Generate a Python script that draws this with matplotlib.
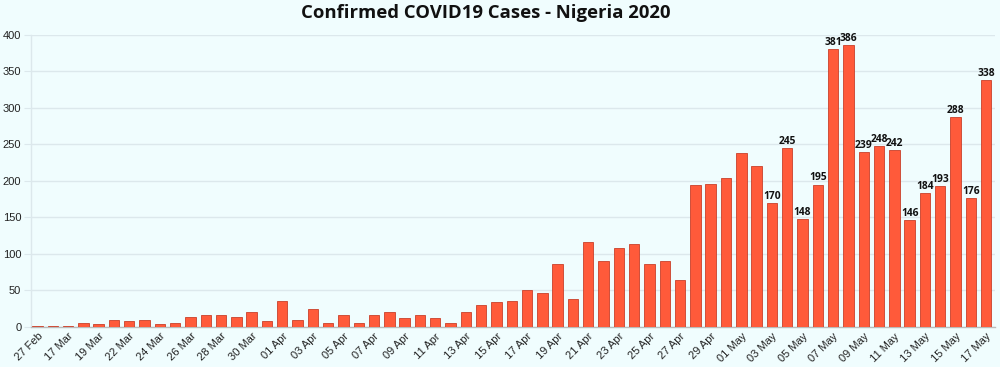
import matplotlib
matplotlib.use("Agg")
import matplotlib.pyplot as plt
import numpy as np
import datetime as dt

# ---- data ----
early_dates = ["27 Feb", "09 Mar", "17 Mar", "18 Mar", "19 Mar", "21 Mar", "22 Mar",
               "23 Mar", "24 Mar", "25 Mar", "26 Mar", "27 Mar", "28 Mar", "29 Mar",
               "30 Mar", "31 Mar"]
start = dt.date(2020, 4, 1)
later_dates = [(start + dt.timedelta(days=i)).strftime("%d %b") for i in range(47)]
dates = early_dates + later_dates

cases = [1, 1, 1, 5, 4, 10, 8, 10, 4, 6, 14, 16, 16, 14, 20, 8,
         35, 10, 25, 5, 17, 5, 16, 20, 13, 16, 12, 5, 20, 30,
         34, 35, 50, 47, 86, 38, 117, 91, 108, 113, 86, 91, 64,
         195, 196, 204, 238, 220, 170, 245, 148, 195, 381, 386,
         239, 248, 242, 146, 184, 193, 288, 176, 338]

labeled_from = 48  # data labels shown from this bar onward

# ---- style ----
bg = "#F0FDFE"
bar_face = "#FF5A3A"
bar_edge = "#C9402A"
grid_c = "#DCE8EC"

fig = plt.figure(figsize=(10, 3.67), dpi=100, facecolor=bg)
ax = fig.add_axes([0.031, 0.109, 0.964, 0.796], facecolor=bg)

x = np.arange(len(cases))
ax.bar(x, cases, width=0.68, color=bar_face, edgecolor=bar_edge, linewidth=0.6, zorder=3)

for i in range(labeled_from, len(cases)):
    ax.text(x[i], cases[i] + 1.5, str(cases[i]), ha="center", va="bottom",
            fontsize=7.4, fontweight="bold", family=["Open Sans", "DejaVu Sans"],
            color="#111111", zorder=4)

ax.set_xlim(-0.42, len(cases) - 0.42)
ax.set_ylim(0, 400)
ax.set_yticks(range(0, 401, 50))
ax.yaxis.grid(True, color=grid_c, linewidth=1.0, zorder=0)
ax.set_axisbelow(True)

ax.set_xticks(x[::2])
ax.set_xticklabels(dates[::2], rotation=45, ha="right", rotation_mode="anchor",
                   fontsize=8, family=["Liberation Sans", "DejaVu Sans"], color="#222222")
for lab in ax.get_yticklabels():
    lab.set_fontsize(8)
    lab.set_family(["Liberation Sans", "DejaVu Sans"])
    lab.set_color("#222222")

ax.tick_params(axis="x", length=0, pad=3)
ax.tick_params(axis="y", length=5, color=grid_c, pad=2)

for s in ["top", "right"]:
    ax.spines[s].set_visible(False)
ax.spines["left"].set_color(grid_c)
ax.spines["left"].set_linewidth(1.0)
ax.spines["bottom"].set_color("#BBBBBB")
ax.spines["bottom"].set_linewidth(1.0)

fig.text(0.486, 0.965, "Confirmed COVID19 Cases - Nigeria 2020", ha="center", va="center",
         fontsize=13.3, fontweight="bold", family=["Open Sans", "DejaVu Sans"], color="#111111")

fig.savefig("out.png", dpi=100, facecolor=bg)
